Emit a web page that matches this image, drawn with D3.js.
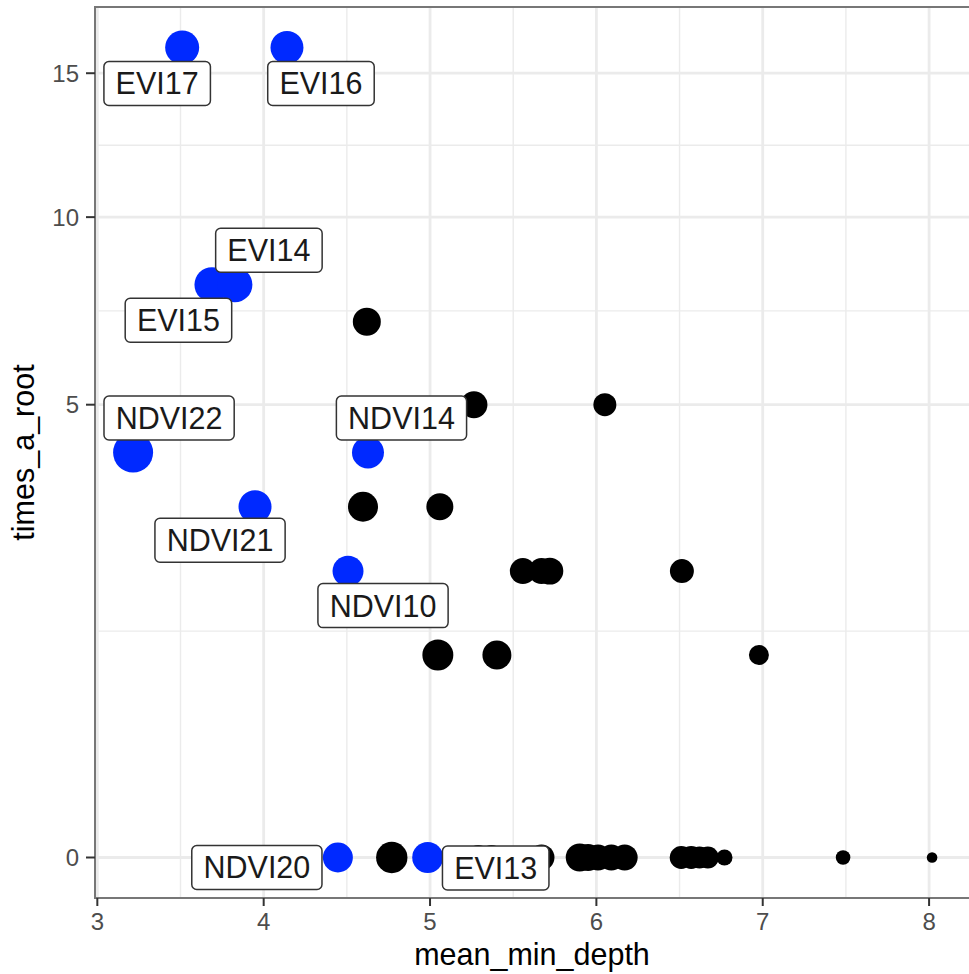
<!DOCTYPE html>
<html>
<head>
<meta charset="utf-8">
<script src="https://cdn.jsdelivr.net/npm/d3@7"></script>
<style>
  body { margin: 0; background: #fff; }
  text { font-family: "Liberation Sans", Arial, sans-serif; }
</style>
</head>
<body>
<svg id="chart"></svg>
<script>
// top variables (highlighted + labelled)
const topLabels = ["EVI17", "EVI16", "EVI15", "EVI14", "NDVI22", "NDVI14", "NDVI21", "NDVI10", "NDVI20", "EVI13"];
const topDepth = [3.51, 4.14, 3.689, 3.827, 3.215, 4.627, 3.948, 4.507, 4.446, 4.986];
const topRoot = [16, 16, 8, 8, 4, 4, 3, 2, 0, 0];
const topNodes = [289, 272, 306, 306, 400, 256, 272, 240, 225, 240];

// remaining variables
const otherDepth = [4.62, 5.264, 6.051, 4.597, 5.059, 5.558, 5.67, 5.72, 6.514, 5.047, 5.402, 6.977,
  4.77, 5.29, 5.37, 5.67, 5.90, 5.95, 6.01, 6.09, 6.17, 6.51, 6.57, 6.62, 6.67, 6.77, 7.483, 8.018];
const otherRoot = [7, 5, 5, 3, 3, 2, 2, 2, 2, 1, 1, 1,
  0, 0, 0, 0, 0, 0, 0, 0, 0, 0, 0, 0, 0, 0, 0, 0];
const otherNodes = [196, 182, 132, 225, 182, 169, 169, 182, 144, 240, 210, 100,
  246, 156, 156, 169, 196, 182, 169, 169, 169, 132, 132, 121, 121, 64, 53, 28];

const xTicks = [3, 4, 5, 6, 7, 8];
const yTicks = [0, 5, 10, 15];

// label offsets from their point (repel result), px
const labelNudge = {
  EVI17: [-25, 36], EVI16: [34, 36], EVI15: [-33.5, 35.5], EVI14: [34, -34.5],
  NDVI22: [36, -34.5], NDVI14: [33.5, -34.5], NDVI21: [-35, 33.5], NDVI10: [35, 34.5],
  NDVI20: [-81, 10], EVI13: [68, 10.5]
};

const w = 969, h = 974;
const panel = { left: 95, top: 7, right: 974, bottom: 898 };

const svg = d3.select("#chart").attr("width", w).attr("height", h);
svg.append("rect").attr("width", w).attr("height", h).attr("fill", "#fff");

const x = d3.scaleLinear().domain([2.986, 8.27]).range([panel.left, panel.right]);
const y = d3.scaleSqrt().domain([-0.04, 17.64]).range([panel.bottom, panel.top]);
const r = d3.scaleSqrt().domain([0, 400]).range([0, 20]);

svg.append("clipPath").attr("id", "clip")
  .append("rect")
  .attr("x", panel.left).attr("y", panel.top)
  .attr("width", panel.right - panel.left).attr("height", panel.bottom - panel.top);

const plot = svg.append("g").attr("clip-path", "url(#clip)");

// minor grid: midpoints between major breaks (in transformed space)
const xMinor = xTicks.slice(0, -1).map(d => d + 0.5);
const ySqrt = yTicks.map(Math.sqrt);
const yMinor = ySqrt.slice(0, -1).map((d, i) => Math.pow((d + ySqrt[i + 1]) / 2, 2));

plot.selectAll(".xminor").data(xMinor).enter().append("line")
  .attr("x1", d => x(d)).attr("x2", d => x(d))
  .attr("y1", panel.top).attr("y2", panel.bottom)
  .attr("stroke", "#ebebeb").attr("stroke-width", 1.4);
plot.selectAll(".yminor").data(yMinor).enter().append("line")
  .attr("y1", d => y(d)).attr("y2", d => y(d))
  .attr("x1", panel.left).attr("x2", panel.right)
  .attr("stroke", "#ebebeb").attr("stroke-width", 1.4);
plot.selectAll(".xmajor").data(xTicks).enter().append("line")
  .attr("x1", d => x(d)).attr("x2", d => x(d))
  .attr("y1", panel.top).attr("y2", panel.bottom)
  .attr("stroke", "#ebebeb").attr("stroke-width", 2.8);
plot.selectAll(".ymajor").data(yTicks).enter().append("line")
  .attr("y1", d => y(d)).attr("y2", d => y(d))
  .attr("x1", panel.left).attr("x2", panel.right)
  .attr("stroke", "#ebebeb").attr("stroke-width", 2.8);

// points
const others = otherDepth.map((d, i) => ({ depth: d, root: otherRoot[i], nodes: otherNodes[i] }));
const tops = topLabels.map((l, i) => ({ label: l, depth: topDepth[i], root: topRoot[i], nodes: topNodes[i] }));

plot.selectAll(".other").data(others).enter().append("circle")
  .attr("cx", d => x(d.depth)).attr("cy", d => y(d.root))
  .attr("r", d => r(d.nodes))
  .attr("fill", "#000");

plot.selectAll(".top").data(tops).enter().append("circle")
  .attr("cx", d => x(d.depth)).attr("cy", d => y(d.root))
  .attr("r", d => r(d.nodes))
  .attr("fill", "#0029ff");

// labels
const fontSize = 30.5;
const labels = plot.selectAll(".lab").data(tops).enter().append("g")
  .attr("transform", d => "translate(" + (x(d.depth) + labelNudge[d.label][0]) + "," +
    (y(d.root) + labelNudge[d.label][1]) + ")");

labels.append("rect").attr("class", "box");
labels.append("text")
  .text(d => d.label)
  .attr("text-anchor", "middle")
  .attr("y", fontSize * 0.36)
  .attr("font-size", fontSize + "px")
  .attr("fill", "#1a1a1a");

labels.each(function () {
  const g = d3.select(this);
  const tw = g.select("text").node().getComputedTextLength();
  const bw = tw + 23.4, bh = 44;
  g.select("rect")
    .attr("x", -bw / 2).attr("y", -bh / 2)
    .attr("width", bw).attr("height", bh)
    .attr("rx", 5).attr("ry", 5)
    .attr("fill", "#fff")
    .attr("stroke", "#333").attr("stroke-width", 1.5);
});

// panel border
svg.append("rect")
  .attr("x", panel.left).attr("y", panel.top)
  .attr("width", panel.right - panel.left).attr("height", panel.bottom - panel.top)
  .attr("fill", "none").attr("stroke", "#777").attr("stroke-width", 2);

// y axis
const yAxis = svg.append("g");
yAxis.selectAll("line").data(yTicks).enter().append("line")
  .attr("x1", panel.left - 9).attr("x2", panel.left)
  .attr("y1", d => y(d)).attr("y2", d => y(d))
  .attr("stroke", "#333").attr("stroke-width", 2);
yAxis.selectAll("text").data(yTicks).enter().append("text")
  .text(d => d)
  .attr("x", panel.left - 16).attr("y", d => y(d) + 8.5)
  .attr("text-anchor", "end")
  .attr("font-size", "24px").attr("fill", "#4d4d4d");

// x axis
const xAxis = svg.append("g");
xAxis.selectAll("line").data(xTicks).enter().append("line")
  .attr("x1", d => x(d)).attr("x2", d => x(d))
  .attr("y1", panel.bottom).attr("y2", panel.bottom + 8)
  .attr("stroke", "#333").attr("stroke-width", 2);
xAxis.selectAll("text").data(xTicks).enter().append("text")
  .text(d => d)
  .attr("x", d => x(d)).attr("y", panel.bottom + 32)
  .attr("text-anchor", "middle")
  .attr("font-size", "24px").attr("fill", "#4d4d4d");

// axis titles
svg.append("text")
  .text("mean_min_depth")
  .attr("x", 532).attr("y", 965)
  .attr("text-anchor", "middle")
  .attr("font-size", "30.5px").attr("fill", "#000");

svg.append("text")
  .text("times_a_root")
  .attr("transform", "translate(34," + (panel.top + panel.bottom) / 2 + ") rotate(-90)")
  .attr("text-anchor", "middle")
  .attr("font-size", "30.5px").attr("fill", "#000");
</script>
</body>
</html>
